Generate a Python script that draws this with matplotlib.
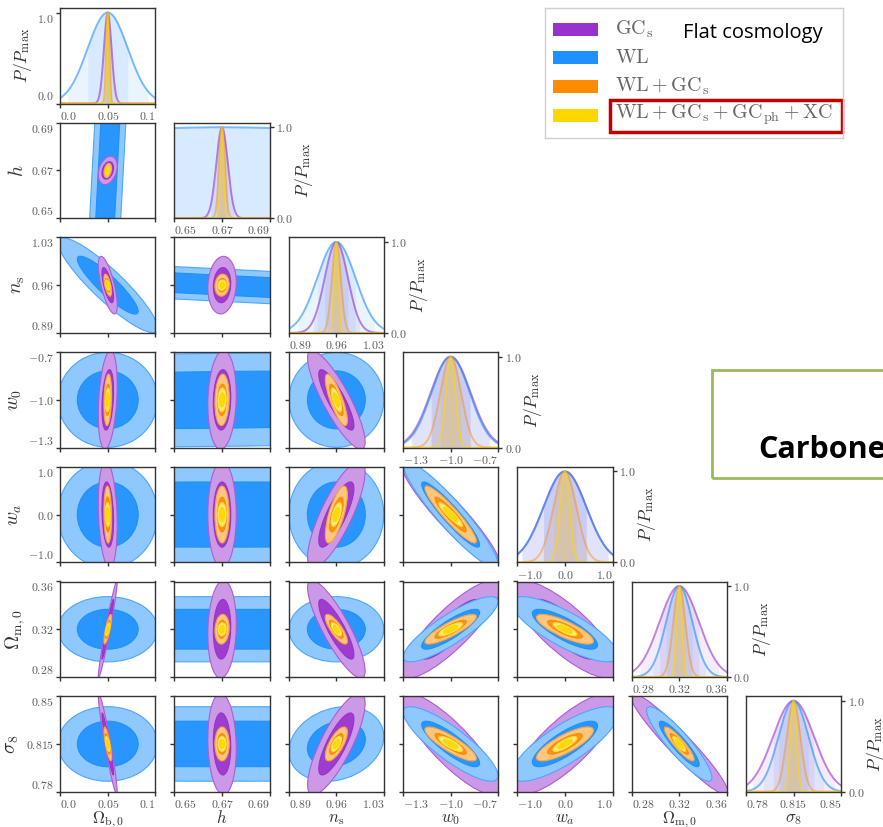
import numpy as np
import matplotlib
matplotlib.use("Agg")
import matplotlib.pyplot as plt
from matplotlib.patches import Ellipse, Rectangle
from matplotlib.colors import to_rgb

plt.rcParams['mathtext.fontset'] = 'cm'
plt.rcParams['font.family'] = ['DejaVu Serif']

W, H = 883, 827
fig = plt.figure(figsize=(W / 100, H / 100), dpi=100)

# ---- parameters -----------------------------------------------------------
param_labels = [r'$\Omega_{\rm b,0}$', r'$h$', r'$n_{\rm s}$', r'$w_0$', r'$w_a$',
                r'$\Omega_{\rm m,0}$', r'$\sigma_8$']
fiducial = [0.05, 0.67, 0.96, -1.0, 0.0, 0.32, 0.815]
axis_lo = [0.0, 0.65, 0.89, -1.3, -1.0, 0.28, 0.78]
axis_hi = [0.1, 0.69, 1.03, -0.7, 1.0, 0.36, 0.85]
tick_values = [[0.0, 0.05, 0.1], [0.65, 0.67, 0.69], [0.89, 0.96, 1.03],
               [-1.3, -1.0, -0.7], [-1.0, 0.0, 1.0], [0.28, 0.32, 0.36],
               [0.78, 0.815, 0.85]]
tick_text = [["0.0", "0.05", "0.1"], ["0.65", "0.67", "0.69"], ["0.89", "0.96", "1.03"],
             ["-1.3", "-1.0", "-0.7"], ["-1.0", "0.0", "1.0"], ["0.28", "0.32", "0.36"],
             ["0.78", "0.815", "0.85"]]

# ---- marginal errors per probe (order as param_labels) --------------------
sigma_gcs = [0.004, 0.0024, 0.017, 0.125, 0.45, 0.0165, 0.015]
sigma_wl = [0.021, 0.15, 0.028, 0.12, 0.45, 0.011, 0.011]
sigma_wl_gcs = [0.0016, 0.0012, 0.0065, 0.065, 0.24, 0.005, 0.005]
sigma_all = [0.001, 0.0007, 0.003, 0.03, 0.10, 0.0022, 0.0022]

# ---- correlation coefficients, pairs (i<j) in row-major order ------------
# (0,1) (0,2) (0,3) (0,4) (0,5) (0,6) (1,2) (1,3) (1,4) (1,5) (1,6)
# (2,3) (2,4) (2,5) (2,6) (3,4) (3,5) (3,6) (4,5) (4,6) (5,6)
rho_gcs = [0.3, -0.7, 0.3, -0.2, 0.97, -0.95, 0.1, 0.1, 0.0, 0.1, -0.1,
           -0.85, 0.8, -0.85, 0.8, -0.93, 0.85, -0.85, -0.8, 0.8, -0.95]
rho_wl = [0.95, -0.9, 0.0, 0.0, 0.0, 0.0, -0.94, 0.2, 0.0, 0.0, 0.0,
          0.0, 0.0, 0.0, 0.2, -0.93, 0.85, -0.85, -0.8, 0.8, -0.9]
rho_wl_gcs = [0.3, -0.6, 0.2, -0.1, 0.8, -0.8, 0.1, 0.1, 0.0, 0.1, 0.0,
              -0.8, 0.7, -0.8, 0.7, -0.93, 0.85, -0.85, -0.8, 0.8, -0.9]
rho_all = [0.3, -0.5, 0.2, -0.1, 0.6, -0.6, 0.1, 0.1, 0.0, 0.1, 0.0,
           -0.7, 0.6, -0.7, 0.6, -0.93, 0.8, -0.8, -0.8, 0.8, -0.85]

probe_names = [r'$\rm GC_s$', r'$\rm WL$', r'$\rm WL+GC_s$',
               r'$\rm WL+GC_s+GC_{ph}+XC$']
probe_colors = ['#9932CC', '#1E90FF', '#FF8C00', '#FFD700']
probe_sigmas = [sigma_gcs, sigma_wl, sigma_wl_gcs, sigma_all]
probe_rhos = [rho_gcs, rho_wl, rho_wl_gcs, rho_all]

npar = len(fiducial)
pair_index = {}
for i in range(npar):
    for j in range(i + 1, npar):
        pair_index[(i, j)] = len(pair_index)

K1, K2 = np.sqrt(2.30), np.sqrt(6.17)   # 68% and 95% 2D contours
TEXT_GREY = '#5a5a5a'
SPINE = '#333333'


def lighten(c, f):
    r = np.array(to_rgb(c))
    return tuple(1 - f * (1 - r))


def cov2(p, i, j):
    s = probe_sigmas[p]
    r = probe_rhos[p][pair_index[(min(i, j), max(i, j))]]
    return np.array([[s[i] ** 2, r * s[i] * s[j]], [r * s[i] * s[j], s[j] ** 2]])


def add_ellipse(ax, center, cov, k, face, edge):
    vals, vecs = np.linalg.eigh(cov)
    order = vals.argsort()[::-1]
    vals, vecs = vals[order], vecs[:, order]
    ang = np.degrees(np.arctan2(vecs[1, 0], vecs[0, 0]))
    e = Ellipse(center, 2 * k * np.sqrt(vals[0]), 2 * k * np.sqrt(vals[1]), angle=ang,
                facecolor=face, edgecolor=edge, lw=0.8)
    ax.add_patch(e)


def px_axes(left, top, w, h):
    return fig.add_axes([left / W, 1 - (top + h) / H, w / W, h / H])


def style_axis(ax):
    for s in ax.spines.values():
        s.set_color(SPINE)
        s.set_linewidth(1.0)
    ax.tick_params(direction='out', length=3, width=1, color=SPINE,
                   labelsize=8.5, labelcolor=TEXT_GREY, pad=1.5)


def set_ticks(ax, which, idx, show):
    vals = tick_values[idx]
    labels = ['$' + t + '$' for t in tick_text[idx]]
    if which == 'x':
        ax.set_xticks(vals)
        ax.set_xticklabels(labels if show else [])
        if show:
            tl = ax.get_xticklabels()
            tl[0].set_ha('left')
            tl[-1].set_ha('right')
    else:
        ax.set_yticks(vals)
        ax.set_yticklabels(labels if show else [])
        if show:
            tl = ax.get_yticklabels()
            tl[0].set_va('bottom')
            tl[-1].set_va('top')


col_left = [60 + 114.3 * i for i in range(npar)]
row_top = [8 + 114.7 * j for j in range(npar)]
PS = 95.5

for row in range(npar):
    for col in range(row + 1):
        ax = px_axes(col_left[col], row_top[row], PS, PS)
        style_axis(ax)
        if row == col:
            i = row
            x = np.linspace(axis_lo[i], axis_hi[i], 500)
            for p in range(4):
                s = probe_sigmas[p][i]
                y = np.exp(-0.5 * ((x - fiducial[i]) / s) ** 2)
                c = probe_colors[p]
                ax.fill_between(x, 0, y, where=np.abs(x - fiducial[i]) <= 2 * s,
                                color=c, alpha=0.09, lw=0)
                ax.fill_between(x, 0, y, where=np.abs(x - fiducial[i]) <= s,
                                color=c, alpha=0.09, lw=0)
                ax.plot(x, y, color=c, alpha=0.45 if p == 2 else 0.6, lw=1.4)
            ax.set_xlim(axis_lo[i], axis_hi[i])
            ax.set_ylim(0, 1.05)
            set_ticks(ax, 'x', i, True)
            ax.set_yticks([0.0, 1.0])
            ax.set_yticklabels([r'$0.0$', r'$1.0$'])
            tl = ax.get_yticklabels()
            tl[0].set_va('bottom')
            tl[1].set_va('top')
            if i != 0:
                ax.yaxis.tick_right()
                ax.yaxis.set_label_position('right')
                ax.set_ylabel(r'$P/P_{\rm max}$', fontsize=12.5, color='#333333',
                              labelpad=0.5)
            else:
                ax.set_ylabel(r'$P/P_{\rm max}$', fontsize=12.5, color='#333333',
                              labelpad=2)
        else:
            i, j = col, row   # x parameter i, y parameter j
            covs = [cov2(p, i, j) for p in range(4)]
            order = sorted(range(4), key=lambda p: -np.linalg.det(covs[p]))
            for p in order:
                c = probe_colors[p]
                add_ellipse(ax, (fiducial[i], fiducial[j]), covs[p], K2,
                            lighten(c, 0.5), lighten(c, 0.8))
                add_ellipse(ax, (fiducial[i], fiducial[j]), covs[p], K1,
                            lighten(c, 0.95), lighten(c, 1.0))
            ax.set_xlim(axis_lo[i], axis_hi[i])
            ax.set_ylim(axis_lo[j], axis_hi[j])
            set_ticks(ax, 'x', i, row == npar - 1)
            set_ticks(ax, 'y', j, col == 0)
            if col == 0:
                ax.set_ylabel(param_labels[j], fontsize=14, color='#333333', labelpad=3)
        if row == npar - 1:
            ax.set_xlabel(param_labels[col], fontsize=12, color='#333333', labelpad=-1)

# ---- legend ---------------------------------------------------------------
lax = px_axes(545, 8, 298, 130)
lax.set_xlim(0, 298)
lax.set_ylim(130, 0)
lax.set_xticks([])
lax.set_yticks([])
for s in lax.spines.values():
    s.set_color('#d0d0d0')
    s.set_linewidth(1.0)
for k in range(4):
    yc = 21 + 28.7 * k
    lax.add_patch(Rectangle((8, yc - 6.5), 45, 13, facecolor=probe_colors[k], lw=0))
    lax.text(70, yc, probe_names[k], fontsize=14.5, color='#666666', va='center',
             ha='left')
lax.text(138, 25, 'Flat cosmology', fontsize=14.5, color='black', va='center',
         ha='left', family='Open Sans')
lax.add_patch(Rectangle((65, 92), 232, 32, facecolor='none', edgecolor='#c00000',
                        lw=2.5, clip_on=False))

# ---- annotation box --------------------------------------------------------
fig.patches.append(Rectangle((712 / W, 1 - 478 / H), 200 / W, 108 / H,
                             transform=fig.transFigure, facecolor='none',
                             edgecolor='#9bbb59', lw=2))
fig.text(758 / W, 1 - 450 / H, 'Carbone', fontsize=22, fontweight='bold',
         family='Open Sans', color='black', va='center', ha='left')

fig.savefig('out.png', dpi=100)
